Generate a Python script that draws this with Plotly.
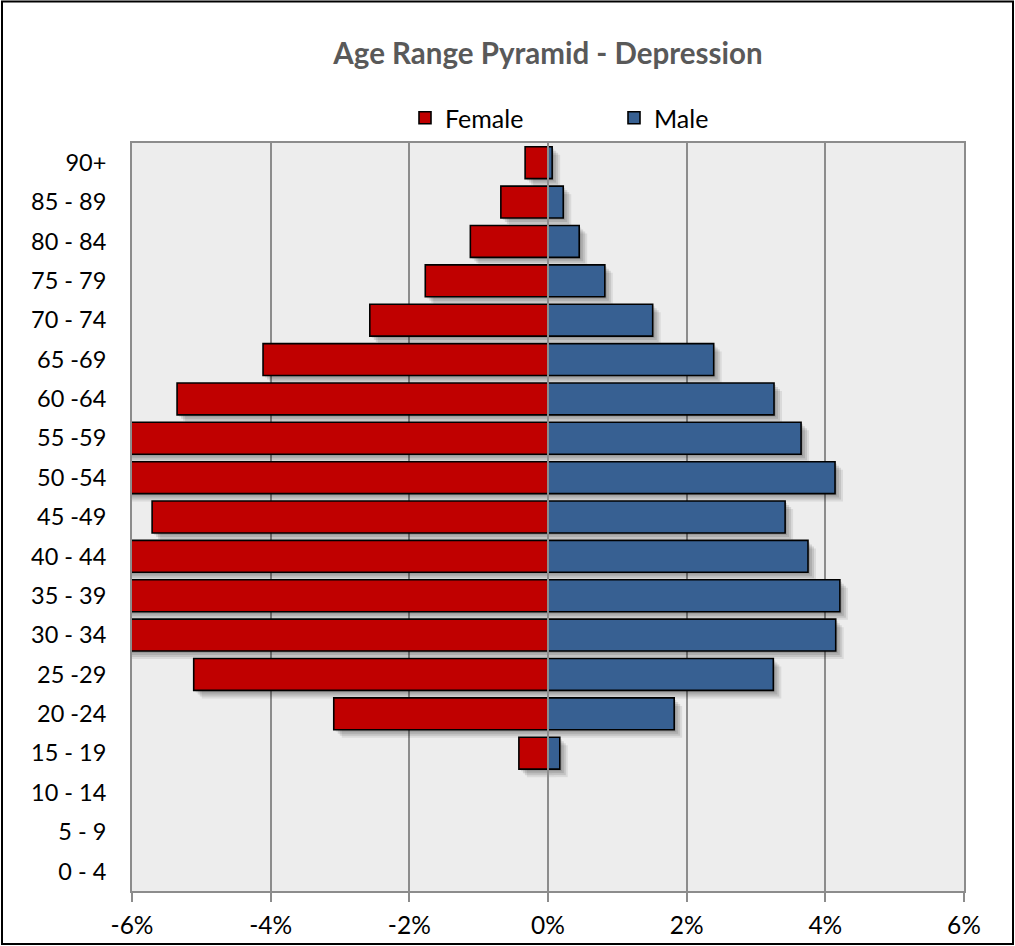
import plotly.graph_objects as go

# Age groups, bottom to top
age_groups = ["0 - 4", "5 - 9", "10 - 14", "15 - 19", "20 -24", "25 -29", "30 - 34",
              "35 - 39", "40 - 44", "45 -49", "50 -54", "55 -59", "60 -64", "65 -69",
              "70 - 74", "75 - 79", "80 - 84", "85 - 89", "90+"]

# Share of patients in each age group (%)
female_pct = [0.0, 0.0, 0.0, 0.42, 3.09, 5.11, 6.7, 6.8, 6.2, 5.71, 6.6, 6.3, 5.35, 4.11,
              2.57, 1.77, 1.12, 0.68, 0.33]
male_pct = [0.0, 0.0, 0.0, 0.17, 1.82, 3.25, 4.15, 4.21, 3.75, 3.42, 4.14, 3.65, 3.26, 2.39,
            1.51, 0.82, 0.45, 0.22, 0.06]

tick_vals = [-6, -4, -2, 0, 2, 4, 6]
tick_text = ["-6%", "-4%", "-2%", "0%", "2%", "4%", "6%"]

female_neg = [-v for v in female_pct]

FONT = "Lato"
RED = "#C00000"
BLUE = "#376092"

# plot area geometry (px) used to express shadow offsets in axis units
L, R, T, B = 132, 51, 143, 55
W, H = 1015, 946
pw, ph = W - L - R, H - T - B
xr = [-6, 6]
yr = [-0.5, len(age_groups) - 0.5]
ux = (xr[1] - xr[0]) / pw
uy = (yr[1] - yr[0]) / ph

fig = go.Figure()

# invisible trace to anchor the base axes
fig.add_trace(go.Bar(x=[0] * len(age_groups), y=age_groups, orientation="h",
                     marker=dict(opacity=0), showlegend=False, hoverinfo="skip"))

# soft drop shadow built from a few offset translucent layers
shadow_offsets = [2, 4, 6, 8]
shadow_alpha = [0.11, 0.11, 0.10, 0.08]
layout_axes = {}
for i, (d, a) in enumerate(zip(shadow_offsets, shadow_alpha)):
    n = i + 2
    for vals in (female_neg, male_pct):
        fig.add_trace(go.Bar(x=vals, y=age_groups, orientation="h",
                             marker=dict(color=f"rgba(0,0,0,{a})", line=dict(width=0)),
                             xaxis=f"x{n}", yaxis=f"y{n}", showlegend=False,
                             hoverinfo="skip"))
    layout_axes[f"xaxis{n}"] = dict(overlaying="x", visible=False,
                                    range=[xr[0] - d * ux, xr[1] - d * ux])
    layout_axes[f"yaxis{n}"] = dict(overlaying="y", visible=False, type="category",
                                    categoryorder="array", categoryarray=age_groups,
                                    range=[yr[0] + d * uy, yr[1] + d * uy])

top = len(shadow_offsets) + 2
fig.add_trace(go.Bar(x=female_neg, y=age_groups, orientation="h", name="Female",
                     marker=dict(color=RED, line=dict(color="black", width=1.6)),
                     xaxis=f"x{top}", yaxis=f"y{top}"))
fig.add_trace(go.Bar(x=male_pct, y=age_groups, orientation="h", name="Male",
                     marker=dict(color=BLUE, line=dict(color="black", width=1.6)),
                     xaxis=f"x{top}", yaxis=f"y{top}"))
layout_axes[f"xaxis{top}"] = dict(overlaying="x", visible=False, range=xr)
layout_axes[f"yaxis{top}"] = dict(overlaying="y", visible=False, type="category",
                                  categoryorder="array", categoryarray=age_groups, range=yr)

fig.update_layout(
    width=W, height=H,
    margin=dict(l=L, r=R, t=T, b=B),
    paper_bgcolor="white",
    plot_bgcolor="#EDEDED",
    barmode="relative",
    bargap=0.19,
    font=dict(family=FONT, color="black", size=22),
    title=dict(text="<b>Age Range Pyramid - Depression</b>", xref="paper", x=0.5,
               xanchor="center", y=1 - 54 / H, yanchor="middle",
               font=dict(family=FONT, size=29.5, color="#595959")),
    legend=dict(orientation="h", x=(405 - L) / pw, xanchor="left",
                y=1 + 25 / ph, yanchor="middle", entrywidth=164,
                font=dict(family=FONT, size=25, color="black"),
                bgcolor="rgba(0,0,0,0)"),
    xaxis=dict(range=xr, tickvals=tick_vals, ticktext=tick_text,
               showgrid=True, gridcolor="#8C8C8C", gridwidth=2, zeroline=False,
               showline=True, linecolor="#8C8C8C", linewidth=2, mirror=True,
               ticks="outside", ticklen=9, tickwidth=2, tickcolor="#8C8C8C",
               ticklabelstandoff=3, automargin=False,
               tickfont=dict(family=FONT, size=24.5, color="black")),
    yaxis=dict(type="category", categoryorder="array", categoryarray=age_groups,
               range=yr, showgrid=False, zeroline=False,
               showline=True, linecolor="#8C8C8C", linewidth=2, mirror=True,
               ticks="", ticklabelstandoff=19, automargin=False,
               tickfont=dict(family=FONT, size=23.5, color="black")),
    showlegend=True,
    **layout_axes,
)

# center line drawn over the bars
fig.add_shape(type="line", xref="x", yref="paper", x0=0, x1=0, y0=0, y1=1,
              line=dict(color="#8C8C8C", width=2), layer="above")

# outer chart frame
fig.add_shape(type="rect", xref="paper", yref="paper",
              x0=(2 - L) / pw, x1=(1013 - L) / pw,
              y0=-(944 - (H - B)) / ph, y1=((H - B) - 1.5) / ph,
              line=dict(color="black", width=2), fillcolor="rgba(0,0,0,0)", layer="above")

fig.write_html("out.html")
